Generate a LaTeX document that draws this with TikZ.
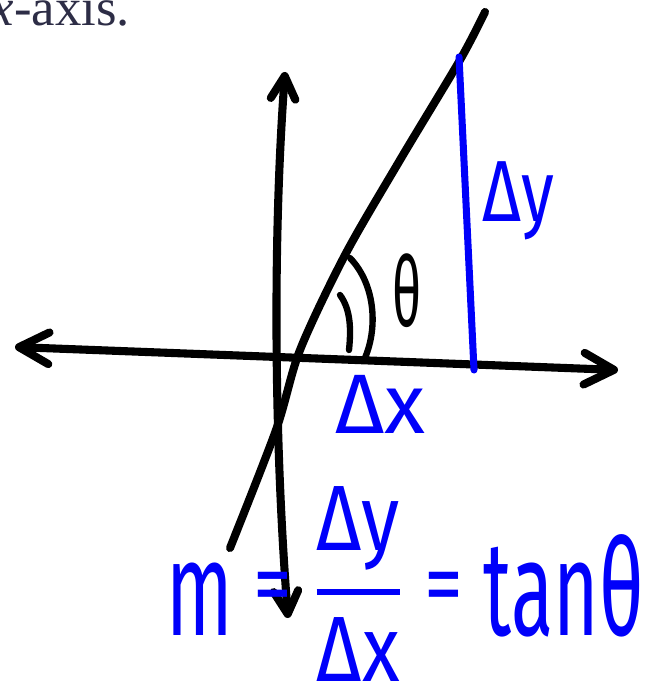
\documentclass[tikz,border=0pt]{standalone}
\usepackage{amsmath}
\usepackage{graphicx}
\usepackage{fontspec}
\setmainfont{Liberation Serif}
\newfontfamily\handfont{Fira Sans}
\usetikzlibrary{arrows.meta}
\definecolor{pen}{RGB}{0,0,250}
\definecolor{print}{RGB}{45,45,70}
\newcommand{\tallw}[1]{\raisebox{-5pt}{\scalebox{1}[1.45]{#1}}}

\begin{document}
\begin{tikzpicture}[x=0.01cm, y=-0.01cm,
    ax/.style={line width=2.3pt, line cap=round, line join=round},
    bigbarb/.tip={Straight Barb[length=8.5pt, width=9pt, line cap=round, line join=round]},
    smallbarb/.tip={Straight Barb[length=6.5pt, width=7pt, line cap=round, line join=round]},
    ang/.style={line width=1.8pt, line cap=round},
    blu/.style={pen, line width=2pt, line cap=round},
    hw/.style={pen, inner sep=0pt, font=\handfont\fontsize{24}{28}\selectfont}
]
\useasboundingbox (0,0) rectangle (650,683);
\clip (0,0) rectangle (650,683);
\node[print, anchor=base west, inner sep=0pt, font=\fontsize{15}{17}\selectfont] (cap) at (-10,26) {\textit{x}-axis.};
% axes
\draw[ax, bigbarb-bigbarb] (15,347) -- (618,370);
\draw[ax, smallbarb-smallbarb] (285,72) .. controls (272,250) and (275,450) .. (288,618);
% the line and its rise
\draw[ax] plot[smooth] coordinates {(230,548) (276,430) (300,350) (345,255) (400,160) (460,60) (485,12)};
\draw[blu] (459,57) -- (474,370);
% angle marks
\draw[ang] (350,258) .. controls (376,285) and (378,330) .. (364,360);
\draw[ang] (340,295) .. controls (351,310) and (351,330) .. (349,350);
\node[inner sep=0pt, font=\handfont\fontsize{24}{28}\selectfont] (th) at (407,291) {\scalebox{0.6}[1.15]{θ}};
\node[hw, anchor=base west] (dx) at (335,433) {Δx};
\node[hw, anchor=base west, font=\handfont\fontsize{19}{22}\selectfont] (dy) at (482,222) {\scalebox{1}[1.3]{Δy}};
% slope
\node[hw] (eq) at (405,584) {\scalebox{0.92}[1.1]{$\displaystyle\tallw{m}\text{ = }\genfrac{}{}{1.6pt}{0}{\text{Δy}}{\text{Δx}}\text{ = }\tallw{tanθ}$}};
\end{tikzpicture}
\end{document}
